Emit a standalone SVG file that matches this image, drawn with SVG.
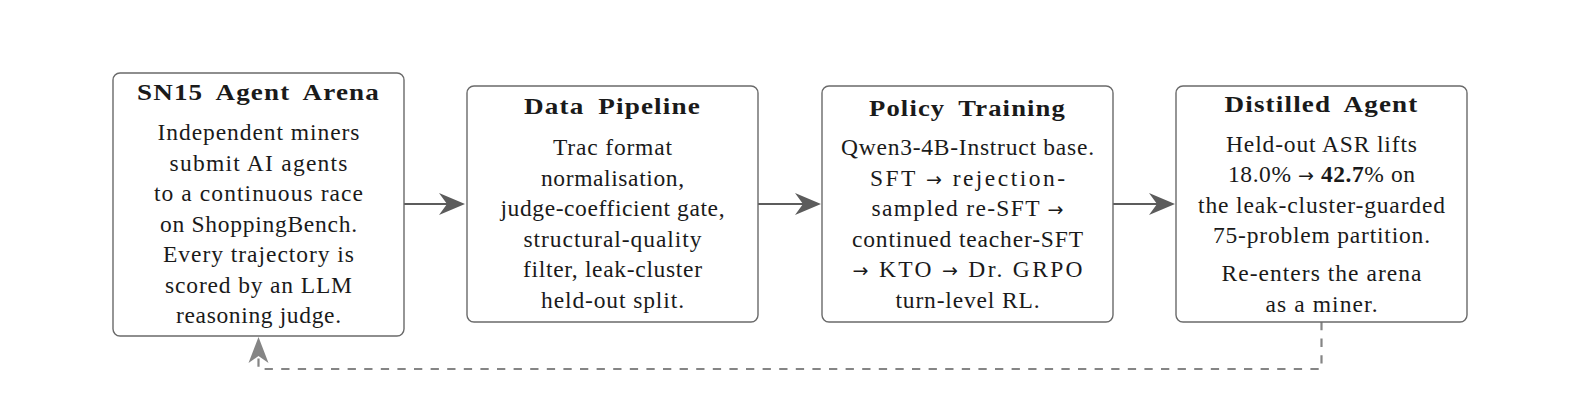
<svg xmlns="http://www.w3.org/2000/svg" width="1580" height="407" viewBox="0 0 1580 407">
  <style>
    .box { fill: #ffffff; stroke: #6a6a6a; stroke-width: 1.4; }
    .hd { font-family: "Liberation Serif", "Times New Roman", serif; font-weight: bold; font-size: 23.5px; letter-spacing: 1px; word-spacing: 5px; fill: #1a1a1a; text-anchor: middle; }
    .tx { font-family: "Liberation Serif", "Times New Roman", serif; font-size: 23.5px; fill: #1a1a1a; text-anchor: middle; }
    .b { font-weight: bold; }
    .ar { font-family: "DejaVu Sans", sans-serif; font-weight: normal; font-size: 19px; }
    .flow { fill: none; stroke: #5c5c5c; stroke-width: 2; }
    .back { fill: none; stroke: #858585; stroke-width: 2.2; stroke-dasharray: 8.3 8.3; }
  </style>
  <defs>
    <marker id="ah" viewBox="-9 -12 28 24" refX="0" refY="0" markerWidth="28" markerHeight="24" markerUnits="userSpaceOnUse" orient="auto">
      <path d="M18,0 L-8,-11 L0,0 L-8,11 Z" fill="#5c5c5c"/>
    </marker>
    <marker id="ahd" viewBox="-8 -11 28 22" refX="0" refY="0" markerWidth="28" markerHeight="22" markerUnits="userSpaceOnUse" orient="auto">
      <path d="M19,0 L-7,-10 L0,0 L-7,10 Z" fill="#858585"/>
    </marker>
  </defs>
  <rect width="1580" height="407" fill="#ffffff"/>

  <g id="connectors">
    <path class="flow" d="M404,204 L447,204" marker-end="url(#ah)"/>
    <path class="flow" d="M758,204 L803,204" marker-end="url(#ah)"/>
    <path class="flow" d="M1113,204 L1157,204" marker-end="url(#ah)"/>
    <path class="back" d="M1321.5,322 L1321.5,369 L258.5,369 L258.5,356" marker-end="url(#ahd)"/>
  </g>

  <g id="node-arena">
    <rect class="box" x="113" y="73" width="291" height="263" rx="7"/>
    <text class="hd" x="258.5" y="99.5" textLength="243" lengthAdjust="spacingAndGlyphs">SN15 Agent Arena</text>
    <text class="tx" x="258.5" y="140" textLength="202" lengthAdjust="spacing">Independent miners</text>
    <text class="tx" x="258.5" y="170.5" textLength="178" lengthAdjust="spacing">submit AI agents</text>
    <text class="tx" x="258.5" y="201" textLength="209" lengthAdjust="spacing">to a continuous race</text>
    <text class="tx" x="258.5" y="231.5" textLength="197" lengthAdjust="spacing">on ShoppingBench.</text>
    <text class="tx" x="258.5" y="262" textLength="191" lengthAdjust="spacing">Every trajectory is</text>
    <text class="tx" x="258.5" y="292.5" textLength="187" lengthAdjust="spacing">scored by an LLM</text>
    <text class="tx" x="258.5" y="323" textLength="165" lengthAdjust="spacing">reasoning judge.</text>
  </g>

  <g id="node-pipeline">
    <rect class="box" x="467" y="86" width="291" height="236" rx="7"/>
    <text class="hd" x="612.5" y="114" textLength="177" lengthAdjust="spacingAndGlyphs">Data Pipeline</text>
    <text class="tx" x="612.5" y="155" textLength="119" lengthAdjust="spacing">Trac format</text>
    <text class="tx" x="612.5" y="185.5" textLength="143" lengthAdjust="spacing">normalisation,</text>
    <text class="tx" x="612.5" y="216" textLength="224" lengthAdjust="spacing">judge-coefficient gate,</text>
    <text class="tx" x="612.5" y="246.5" textLength="178" lengthAdjust="spacing">structural-quality</text>
    <text class="tx" x="612.5" y="277" textLength="179" lengthAdjust="spacing">filter, leak-cluster</text>
    <text class="tx" x="612.5" y="307.5" textLength="143" lengthAdjust="spacing">held-out split.</text>
  </g>

  <g id="node-training">
    <rect class="box" x="822" y="86" width="291" height="236" rx="7"/>
    <text class="hd" x="967.5" y="115.5" textLength="197" lengthAdjust="spacingAndGlyphs">Policy Training</text>
    <text class="tx" x="967.5" y="155" textLength="253" lengthAdjust="spacing">Qwen3-4B-Instruct base.</text>
    <text class="tx" x="967.5" y="185.5" textLength="195" lengthAdjust="spacing">SFT <tspan class="ar">→</tspan> rejection-</text>
    <text class="tx" x="967.5" y="216" textLength="192" lengthAdjust="spacing">sampled re-SFT <tspan class="ar">→</tspan></text>
    <text class="tx" x="967.5" y="246.5" textLength="231" lengthAdjust="spacing">continued teacher-SFT</text>
    <text class="tx" x="967.5" y="277" textLength="230" lengthAdjust="spacing"><tspan class="ar">→</tspan> KTO <tspan class="ar">→</tspan> Dr. GRPO</text>
    <text class="tx" x="967.5" y="307.5" textLength="144" lengthAdjust="spacing">turn-level RL.</text>
  </g>

  <g id="node-distilled">
    <rect class="box" x="1176" y="86" width="291" height="236" rx="7"/>
    <text class="hd" x="1321.5" y="111.5" textLength="194" lengthAdjust="spacingAndGlyphs">Distilled Agent</text>
    <text class="tx" x="1321.5" y="152" textLength="191" lengthAdjust="spacing">Held-out ASR lifts</text>
    <text class="tx" x="1321.5" y="182" textLength="187" lengthAdjust="spacing">18.0% <tspan class="ar">→</tspan> <tspan class="b">42.7</tspan>% on</text>
    <text class="tx" x="1321.5" y="212.5" textLength="247" lengthAdjust="spacing">the leak-cluster-guarded</text>
    <text class="tx" x="1321.5" y="243" textLength="217" lengthAdjust="spacing">75-problem partition.</text>
    <text class="tx" x="1321.5" y="281" textLength="200" lengthAdjust="spacing">Re-enters the arena</text>
    <text class="tx" x="1321.5" y="311.5" textLength="112" lengthAdjust="spacing">as a miner.</text>
  </g>
</svg>
